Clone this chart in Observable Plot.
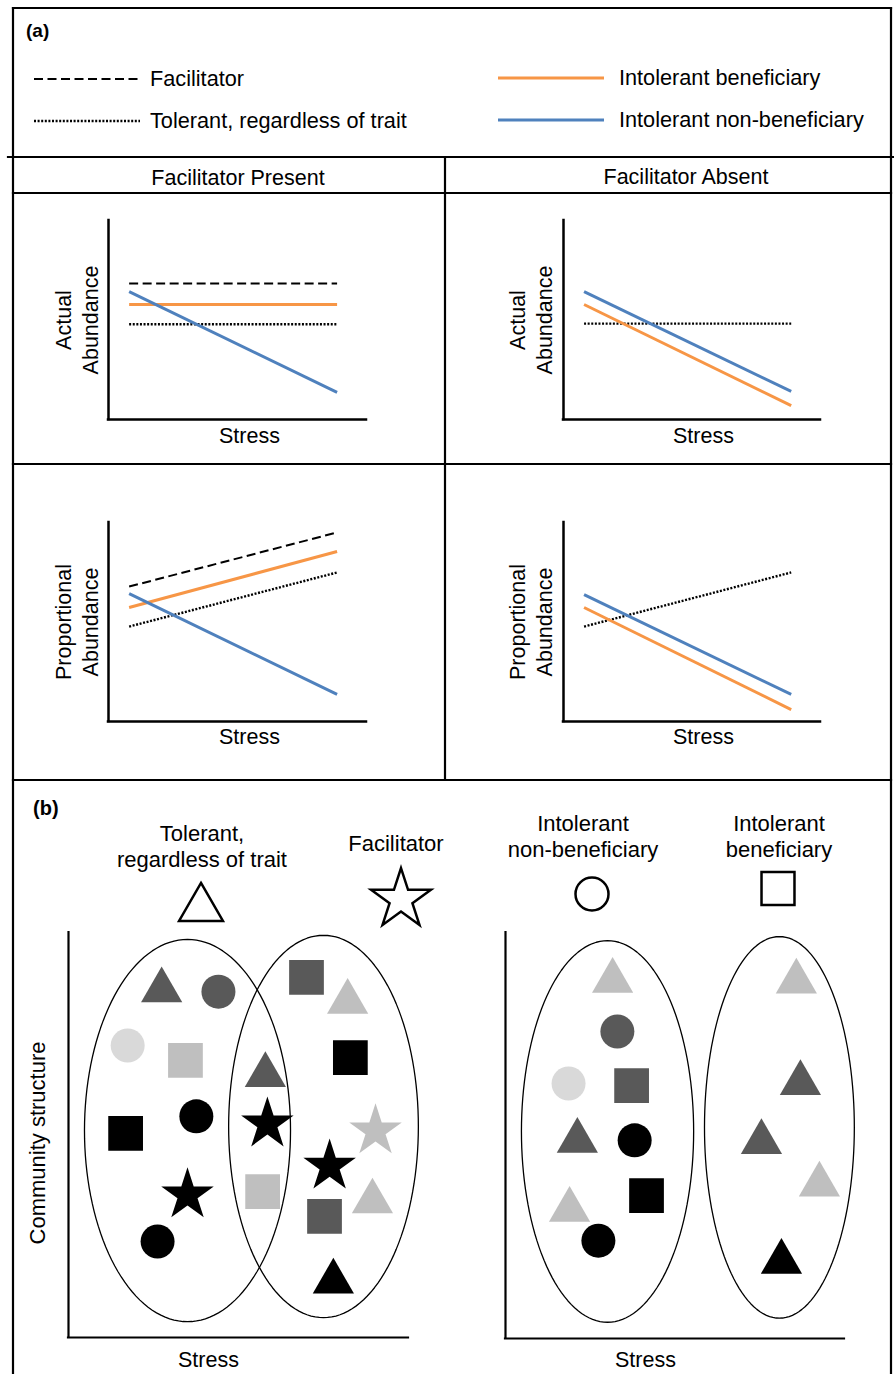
<!DOCTYPE html>
<html><head><meta charset="utf-8">
<script src="https://cdn.jsdelivr.net/npm/d3@7"></script>
<script src="https://cdn.jsdelivr.net/npm/@observablehq/plot@0.6"></script>
<style>
body{margin:0;background:#fff;}
#fig{position:relative;width:894px;height:1374px;background:#fff;overflow:hidden;}
</style></head><body><div id="fig"></div>
<script>
// ---------------- DATA ----------------
// (a) conceptual trends: [value at low stress, value at high stress]
const seriesNames = ["Facilitator", "Tolerant, regardless of trait", "Intolerant beneficiary", "Intolerant non-beneficiary"];
const seriesColors = ["#000000", "#000000", "#F79646", "#4F81BD"];
const seriesDash = ["9,4.5", "2,1.6", null, null];
const seriesWidth = [2, 2.4, 3, 3];
const stressEnds = [0.08, 0.886];
const actualPresent = [[0.683, 0.683], [0.479, 0.479], [0.578, 0.578], [0.643, 0.136]];
const actualAbsent  = [null, [0.482, 0.482], [0.578, 0.070], [0.643, 0.141]];
const propPresent   = [[0.678, 0.950], [0.477, 0.749], [0.573, 0.854], [0.643, 0.136]];
const propAbsent    = [null, [0.477, 0.749], [0.573, 0.060], [0.638, 0.136]];
const panelTitles = ["Facilitator Present", "Facilitator Absent"];
const yTitles = ["Actual\nAbundance", "Proportional\nAbundance"];

// (b) community structure
const keyNames = ["Tolerant,\nregardless of trait", "Facilitator", "Intolerant\nnon-beneficiary", "Intolerant\nbeneficiary"];
const keySymbols = ["triangle", "star", "circle", "square"];
const shadeColors = {black: "#000000", dark: "#595959", light: "#bfbfbf", pale: "#d9d9d9"};
// groups: [centre stress, centre structure, half-width, half-height]
const presentGroups = [[35.0, 51.1, 30.3, 47.2], [75.0, 52.1, 27.9, 47.2]];
const absentGroups  = [[30.1, 51.0, 25.4, 47.0], [80.8, 52.0, 22.1, 47.0]];
// species: [symbol, shade, stress, structure]
const presentSpecies = [
  ["triangle","dark",27.4,85.7], ["circle","dark",44.1,85.4], ["circle","pale",17.4,72.1],
  ["square","light",34.4,68.4], ["square","black",16.8,50.4], ["circle","black",37.6,54.6],
  ["star","black",35.0,35.2], ["circle","black",26.2,23.7], ["triangle","dark",57.9,64.8],
  ["star","black",58.5,52.7], ["square","light",57.1,36.0], ["square","dark",70.0,88.9],
  ["triangle","light",82.1,82.9], ["square","black",82.9,69.1], ["star","light",90.3,51.0],
  ["star","black",76.8,42.3], ["triangle","light",89.4,33.6], ["square","dark",75.3,29.9],
  ["triangle","black",77.9,13.8]
];
const absentSpecies = [
  ["triangle","light",31.6,88.1], ["circle","dark",33.0,75.6], ["circle","pale",18.6,62.8],
  ["square","dark",37.2,62.3], ["triangle","dark",21.2,48.7], ["circle","black",38.1,48.8],
  ["square","black",41.6,35.2], ["triangle","light",18.9,31.7], ["circle","black",27.4,24.1],
  ["triangle","light",85.8,87.9], ["triangle","dark",87.0,62.9], ["triangle","dark",75.5,48.4],
  ["triangle","light",92.6,37.9], ["triangle","black",81.4,18.9]
];

// ---------------- LAYOUT / STYLE ----------------
const FONT = "'Liberation Sans', Arial, Helvetica, sans-serif";
const symbolR = {triangle: 15.3, star: 16.5, circle: 17, square: 19.6};
const fig = document.getElementById("fig");
function place(el, left, top) {
  el.style.position = "absolute"; el.style.left = left + "px"; el.style.top = top + "px";
  fig.appendChild(el);
}

function trendPanel(values, ytitle, box) {
  const data = [];
  values.forEach((v, i) => {
    if (!v) return;
    data.push({s: i, x: stressEnds[0], y: v[0]}, {s: i, x: stressEnds[1], y: v[1]});
  });
  const marks = [
    Plot.ruleX([0], {stroke: "#000", strokeWidth: 2.5, strokeLinecap: "square"}),
    Plot.ruleY([0], {stroke: "#000", strokeWidth: 2.5, strokeLinecap: "square"})
  ];
  for (const i of [0, 1, 2, 3]) {
    const d = data.filter(e => e.s === i);
    if (!d.length) continue;
    marks.push(Plot.line(d, {x: "x", y: "y", stroke: seriesColors[i], strokeWidth: seriesWidth[i],
      strokeDasharray: seriesDash[i] ?? undefined, strokeLinecap: "butt"}));
  }
  marks.push(Plot.text(["Stress"], {text: d => d, frameAnchor: "bottom", lineAnchor: "top", textAnchor: "middle", dx: box.sdx, dy: box.sdy, fontSize: 21.5}));
  marks.push(Plot.text([ytitle], {text: d => d, frameAnchor: "left", textAnchor: "middle", rotate: -90, dx: box.ydx, lineHeight: 1.27, fontSize: 21.5}));
  const p = Plot.plot({
    width: box.w, height: box.h,
    marginLeft: box.ml, marginRight: box.mr, marginTop: box.mt, marginBottom: box.mb,
    x: {domain: [0, 1], axis: null}, y: {domain: [0, 1], axis: null},
    style: {background: "transparent", fontFamily: FONT, overflow: "visible"},
    marks
  });
  place(p, box.left, box.top);
}

trendPanel(actualPresent, yTitles[0], {left: 13, top: 193, w: 432, h: 271, ml: 95, mr: 79, mt: 27, mb: 45, sdx: 12, sdy: 8, ydx: -33});
trendPanel(actualAbsent, yTitles[0], {left: 445, top: 193, w: 446, h: 271, ml: 118, mr: 71, mt: 27, mb: 45, sdx: 11.5, sdy: 8, ydx: -33.5});
trendPanel(propPresent, yTitles[1], {left: 13, top: 464, w: 432, h: 316, ml: 95, mr: 79, mt: 58, mb: 59, sdx: 12, sdy: 7, ydx: -33});
trendPanel(propAbsent, yTitles[1], {left: 445, top: 464, w: 446, h: 316, ml: 118, mr: 71, mt: 58, mb: 59, sdx: 11.5, sdy: 7, ydx: -33.5});

function communityPanel(groups, species, box) {
  const ell = [];
  groups.forEach(([cx, cy, rx, ry], g) => {
    for (let k = 0; k <= 144; ++k) {
      const t = 2 * Math.PI * k / 144;
      ell.push({g, x: cx + rx * Math.cos(t), y: cy + ry * Math.sin(t)});
    }
  });
  const sp = species.map(([symbol, shade, x, y]) => ({symbol, fill: shadeColors[shade], x, y}));
  const marks = [
    Plot.ruleX([0], {stroke: "#000", strokeWidth: 2.2, strokeLinecap: "square"}),
    Plot.ruleY([0], {stroke: "#000", strokeWidth: 2.2, strokeLinecap: "square"}),
    Plot.line(ell, {x: "x", y: "y", z: "g", stroke: "#000", strokeWidth: 1.3})
  ];
  for (const s of ["circle", "square", "triangle", "star"]) {
    marks.push(Plot.dot(sp.filter(d => d.symbol === s), {x: "x", y: "y", symbol: s, r: symbolR[s], fill: "fill", stroke: "none"}));
  }
  marks.push(Plot.text(["Stress"], {text: d => d, frameAnchor: "bottom", lineAnchor: "top", textAnchor: "middle", dx: box.sdx, dy: box.sdy, fontSize: 21.5}));
  const p = Plot.plot({
    width: box.w, height: box.h,
    marginLeft: box.ml, marginRight: box.mr, marginTop: box.mt, marginBottom: box.mb,
    x: {domain: [0, 100], axis: null}, y: {domain: [0, 100], axis: null},
    color: {type: "identity"},
    style: {background: "transparent", fontFamily: FONT, overflow: "visible"},
    marks
  });
  place(p, box.left, box.top);
}

communityPanel(presentGroups, presentSpecies, {left: 20, top: 920, w: 418, h: 454, ml: 48, mr: 30, mt: 12, mb: 37, sdx: -30, sdy: 14.5});
communityPanel(absentGroups, absentSpecies, {left: 457, top: 920, w: 417, h: 454, ml: 48, mr: 30, mt: 12, mb: 36, sdx: -29.5, sdy: 13.5});

// ---------------- OVERLAY: frames, titles, legends ----------------
const ov = d3.select(fig).append("svg")
  .attr("width", 894).attr("height", 1374)
  .style("position", "absolute").style("left", "0px").style("top", "0px")
  .style("font-family", FONT).style("pointer-events", "none");

function seg(x1, y1, x2, y2, w = 2.2) {
  ov.append("line").attr("x1", x1).attr("y1", y1).attr("x2", x2).attr("y2", y2)
    .attr("stroke", "#000").attr("stroke-width", w).attr("stroke-linecap", "square");
}
seg(13, 8, 891, 8);
seg(13, 8, 13, 1374);
seg(891, 8, 891, 1374);
seg(8, 157, 894, 157);
seg(13, 193, 891, 193);
seg(445, 157, 445, 780);
seg(13, 464, 891, 464);
seg(13, 780, 891, 780);

function label(txt, x, y, size, anchor = "start", weight = "normal") {
  ov.append("text").attr("x", x).attr("y", y).attr("font-size", size)
    .attr("font-weight", weight).attr("text-anchor", anchor).attr("fill", "#000").text(txt);
}
label("(a)", 26, 37, 19, "start", "bold");
label("(b)", 33, 815, 20, "start", "bold");

// legend (a)
const legendPos = [[34, 79], [34, 121], [498, 78], [498, 120]];
seriesNames.forEach((name, i) => {
  const [x, y] = legendPos[i];
  ov.append("line").attr("x1", x).attr("x2", x + 106).attr("y1", y).attr("y2", y)
    .attr("stroke", seriesColors[i]).attr("stroke-width", seriesWidth[i])
    .attr("stroke-dasharray", seriesDash[i]);
  label(name, x + (i < 2 ? 116 : 121), y + 7, 21.7);
});

// panel headers
label(panelTitles[0], 238, 185, 21.5, "middle");
label(panelTitles[1], 686, 184, 21.5, "middle");

// community structure y title
ov.append("text").attr("transform", "translate(45,1143) rotate(-90)").attr("text-anchor", "middle")
  .attr("font-size", 22).text("Community structure");

// key (b)
const keyText = [[202, 841], [396, 851], [583, 831], [779, 831]];
const keySym = [[201, 908.3, 16.3], [401, 899.5, 18.8], [592, 894, 16.5], [778, 888.5, 18.6]];
keyNames.forEach((name, i) => {
  const lines = name.split("\n");
  lines.forEach((ln, j) => label(ln, keyText[i][0], keyText[i][1] + 26 * j, 22, "middle"));
  const [x, y, r] = keySym[i];
  if (keySymbols[i] === "circle") {
    ov.append("circle").attr("cx", x).attr("cy", y).attr("r", r)
      .attr("fill", "#fff").attr("stroke", "#000").attr("stroke-width", 2.5);
  } else {
    const typ = {triangle: d3.symbolTriangle, star: d3.symbolStar, square: d3.symbolSquare}[keySymbols[i]];
    ov.append("path").attr("transform", `translate(${x},${y})`)
      .attr("d", d3.symbol(typ, Math.PI * r * r)())
      .attr("fill", "#fff").attr("stroke", "#000").attr("stroke-width", 2.5).attr("stroke-linejoin", "miter");
  }
});
</script></body></html>
